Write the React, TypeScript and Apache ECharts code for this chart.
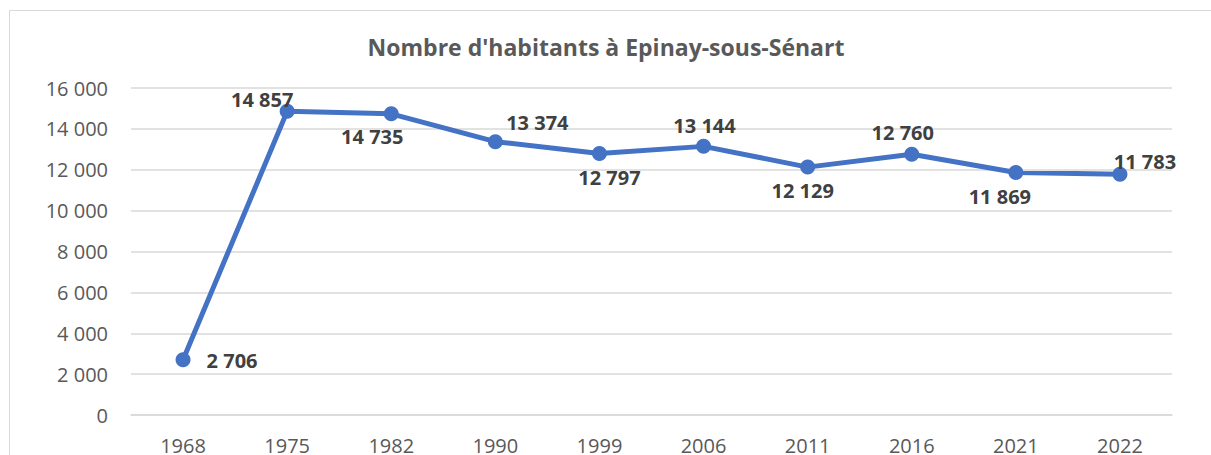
import React, { useEffect, useRef } from "react";
import * as echarts from "echarts";

const TITLE = "Nombre d'habitants à Epinay-sous-Sénart";
const years = ["1968", "1975", "1982", "1990", "1999", "2006", "2011", "2016", "2021", "2022"];
const population = [2706, 14857, 14735, 13374, 12797, 13144, 12129, 12760, 11869, 11783];
const labelOffsets: [number, number][] = [
  [49, 1],
  [-25, -12],
  [-19, 23],
  [42, -19],
  [10, 24],
  [1, -21],
  [-5, 23],
  [-9, -22],
  [-16, 24],
  [25, -13],
];

const fmt = (v: number) => {
  const s = String(Math.round(v));
  return s.replace(/\B(?=(\d{3})+(?!\d))/g, " ");
};

const FONT = "'Open Sans', sans-serif";

export default function App() {
  const ref = useRef<HTMLDivElement>(null);
  useEffect(() => {
    if (!ref.current) return;
    const chart = echarts.init(ref.current, null, { renderer: "svg" });
    chart.setOption({
      animation: false,
      backgroundColor: "#ffffff",
      title: {
        text: TITLE,
        left: 601,
        top: 30,
        textAlign: "center",
        textStyle: { fontFamily: FONT, fontSize: 23, fontWeight: "bold", color: "#595959" },
      },
      graphic: [
        {
          type: "rect",
          shape: { x: 9.5, y: 10.5, width: 1400, height: 600 },
          style: { fill: "none", stroke: "#d9d9d9", lineWidth: 1 },
          silent: true,
        },
      ],
      grid: { left: 131, right: 39, top: 88, bottom: 38 },
      xAxis: {
        type: "category",
        data: years,
        boundaryGap: true,
        axisLine: { show: true, lineStyle: { color: "#d9d9d9", width: 1.5 } },
        axisTick: { show: false },
        axisLabel: { fontFamily: FONT, fontSize: 20, color: "#595959", margin: 20 },
      },
      yAxis: {
        type: "value",
        min: 0,
        max: 16000,
        interval: 2000,
        axisLine: { show: false },
        axisTick: { show: false },
        splitLine: { lineStyle: { color: "#d9d9d9", width: 1.5 } },
        axisLabel: {
          fontFamily: FONT,
          fontSize: 20,
          color: "#595959",
          margin: 23,
          formatter: (v: number) => fmt(v),
        },
      },
      series: [
        {
          type: "line",
          data: population.map((v, i) => ({
            value: v,
            label: { offset: labelOffsets[i] },
          })),
          lineStyle: { color: "#4472C4", width: 5 },
          itemStyle: { color: "#4472C4" },
          symbol: "circle",
          symbolSize: 15,
          label: {
            show: true,
            position: "inside",
            align: "center",
            verticalAlign: "middle",
            fontFamily: FONT,
            fontSize: 20,
            fontWeight: "bold",
            color: "#404040",
            formatter: (p: any) => fmt(p.value),
          },
        },
      ],
    });
    return () => chart.dispose();
  }, []);
  return (
    <div
      ref={ref}
      style={{ position: "fixed", left: 0, top: 0, width: 1211, height: 455 }}
    />
  );
}
